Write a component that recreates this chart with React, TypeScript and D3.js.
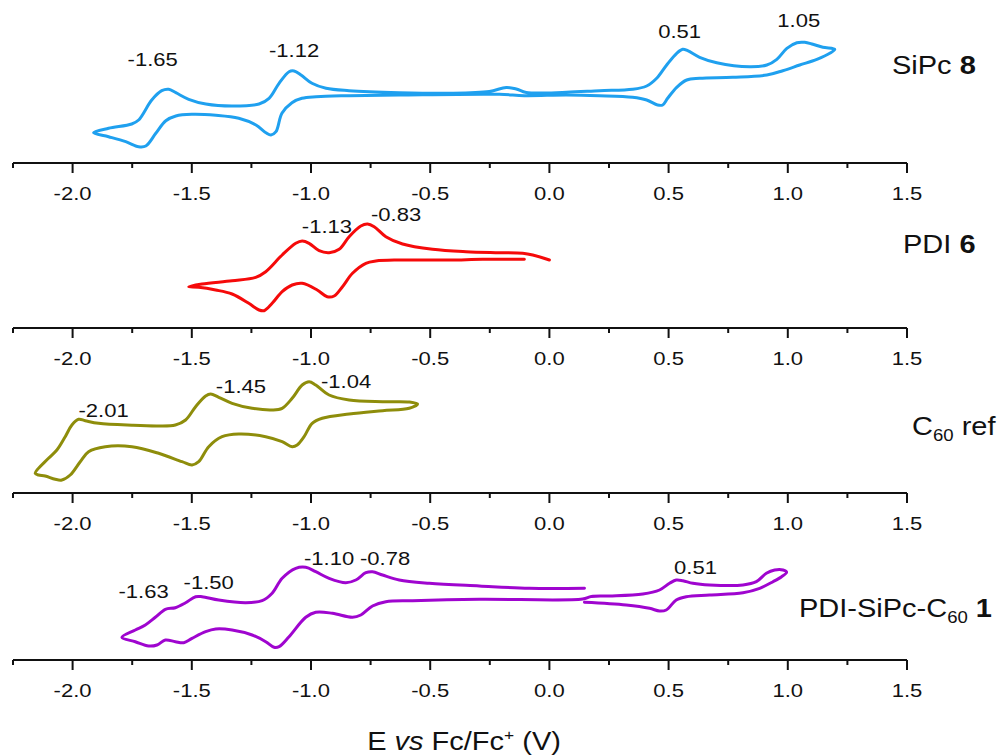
import React from "react";
import * as d3 from "d3";

// Potential axis (V vs Fc/Fc+)
const majorTicks = [-2.0, -1.5, -1.0, -0.5, 0.0, 0.5, 1.0, 1.5];
const minorTicks = [-2.25, -1.75, -1.25, -0.75, -0.25, 0.25, 0.75, 1.25];
const xDomain: [number, number] = [-2.25, 1.5];

// Cyclic voltammograms: [E (V), current (a.u.)]
const sipc8: [number, number][] = [
  [-1.912, 3.03], [-1.849, 3.47], [-1.752, 3.9], [-1.723, 4.3], [-1.668, 6.3], [-1.626, 7.23], [-1.597, 7.37],
  [-1.567, 7.03], [-1.513, 6.37], [-1.441, 5.9], [-1.332, 5.7], [-1.218, 5.9], [-1.176, 6.47], [-1.134, 7.97],
  [-1.092, 9.13], [-1.071, 9.2], [-1.042, 8.8], [-0.996, 7.97], [-0.937, 7.47], [-0.84, 7.23], [-0.63, 7.03],
  [-0.42, 6.97], [-0.252, 7.15], [-0.181, 7.55], [-0.139, 7.4], [-0.097, 7.05], [0.071, 7.07], [0.21, 7.23],
  [0.349, 7.37], [0.408, 7.7], [0.45, 8.47], [0.492, 9.8], [0.534, 10.97], [0.559, 11.37], [0.58, 11.23],
  [0.63, 10.57], [0.702, 10.03], [0.84, 9.63], [0.912, 9.8], [0.954, 10.37], [0.996, 11.47], [1.038, 12.03],
  [1.071, 12.07], [1.105, 11.87], [1.147, 11.57], [1.197, 11.37],
  [1.176, 10.97], [1.122, 10.37], [1.05, 9.8], [0.979, 9.23], [0.912, 8.8], [0.769, 8.57], [0.63, 8.47],
  [0.576, 8.3], [0.534, 7.57], [0.496, 6.47], [0.475, 5.8], [0.454, 5.8], [0.408, 6.3], [0.349, 6.57],
  [0.21, 6.73], [0.071, 6.8], [-0.105, 6.73], [-0.21, 6.87], [-0.63, 6.8], [-0.84, 6.73], [-0.979, 6.63],
  [-1.038, 6.47], [-1.08, 6.03], [-1.122, 4.97], [-1.147, 3.13], [-1.168, 2.8], [-1.189, 3.03], [-1.231, 3.8],
  [-1.303, 4.47], [-1.399, 4.77], [-1.5, 4.87], [-1.567, 4.7], [-1.609, 4.23], [-1.651, 2.97], [-1.693, 1.7],
  [-1.723, 1.63], [-1.777, 2.13], [-1.849, 2.63],
];

const pdi6: [number, number][] = [
  [-0.105, 6.87], [-0.28, 6.87], [-0.42, 6.8], [-0.63, 6.8], [-0.728, 6.7], [-0.77, 6.47], [-0.826, 5.47],
  [-0.868, 4.13], [-0.903, 3.2], [-0.932, 3.13], [-0.974, 3.8], [-1.037, 4.47], [-1.079, 4.3], [-1.121, 3.63],
  [-1.163, 2.47], [-1.197, 1.73], [-1.218, 1.8], [-1.261, 2.47], [-1.331, 3.4], [-1.4, 3.8], [-1.471, 4.07],
  [-1.513, 4.13],
  [-1.457, 4.4], [-1.331, 4.73], [-1.232, 5.07], [-1.19, 5.63], [-1.121, 7.3], [-1.064, 8.47], [-1.037, 8.7],
  [-1.008, 8.47], [-0.966, 7.73], [-0.924, 7.53], [-0.882, 7.87], [-0.84, 9.13], [-0.791, 10.2], [-0.763, 10.4],
  [-0.735, 10.13], [-0.686, 9.13], [-0.616, 8.4], [-0.49, 7.87], [-0.35, 7.63], [-0.21, 7.53], [-0.112, 7.47],
  [-0.07, 7.3], [0.0, 6.8],
];

const c60ref: [number, number][] = [
  [-2.157, 1.97], [-2.101, 3.47], [-2.066, 4.3], [-2.031, 5.63], [-2.003, 6.8], [-1.975, 7.37], [-1.947, 7.23],
  [-1.891, 6.97], [-1.751, 6.77], [-1.639, 6.7], [-1.569, 6.8], [-1.526, 7.3], [-1.484, 8.63], [-1.442, 9.7],
  [-1.421, 9.9], [-1.387, 9.57], [-1.331, 8.97], [-1.247, 8.47], [-1.163, 8.3], [-1.121, 8.47], [-1.079, 9.47],
  [-1.037, 10.8], [-1.008, 11.13], [-0.98, 10.8], [-0.924, 9.8], [-0.84, 9.3], [-0.7, 9.13], [-0.588, 9.1],
  [-0.553, 8.9],
  [-0.588, 8.47], [-0.7, 8.23], [-0.84, 7.9], [-0.953, 7.47], [-0.995, 6.97], [-1.029, 5.63], [-1.058, 4.8],
  [-1.079, 4.63], [-1.121, 5.13], [-1.19, 5.63], [-1.303, 5.9], [-1.373, 5.63], [-1.429, 4.63], [-1.471, 3.13],
  [-1.499, 2.8], [-1.541, 3.13], [-1.639, 3.97], [-1.751, 4.63], [-1.863, 4.63], [-1.933, 4.13], [-1.968, 3.13],
  [-2.01, 1.8], [-2.045, 1.3], [-2.073, 1.37], [-2.115, 1.7], [-2.143, 1.8],
];

const triad1: [number, number][] = [
  [0.147, 7.17], [-0.084, 7.17], [-0.294, 7.4], [-0.504, 7.67], [-0.63, 8.0], [-0.7, 8.5], [-0.742, 8.83],
  [-0.77, 8.73], [-0.812, 8.0], [-0.854, 7.73], [-0.924, 8.17], [-0.98, 8.83], [-1.022, 9.27], [-1.064, 9.17],
  [-1.121, 8.17], [-1.163, 6.67], [-1.205, 5.93], [-1.274, 5.73], [-1.387, 6.0], [-1.457, 6.33], [-1.484, 6.33],
  [-1.526, 5.73], [-1.569, 5.23], [-1.611, 5.07], [-1.653, 4.27], [-1.695, 3.5], [-1.737, 3.0], [-1.793, 2.27],
  [-1.737, 1.83], [-1.681, 1.4], [-1.646, 1.5], [-1.611, 2.0], [-1.569, 1.83], [-1.534, 1.73], [-1.499, 2.17],
  [-1.442, 2.83], [-1.4, 3.1], [-1.331, 3.0], [-1.247, 2.5], [-1.19, 1.83], [-1.155, 1.27], [-1.134, 1.33],
  [-1.092, 2.33], [-1.022, 4.27], [-0.98, 4.77], [-0.91, 4.67], [-0.826, 4.27], [-0.791, 4.5], [-0.742, 5.4],
  [-0.686, 5.83], [-0.574, 5.93], [-0.294, 6.07], [0.139, 6.1], [0.176, 6.35], [0.252, 6.4], [0.392, 6.6],
  [0.462, 7.0], [0.504, 7.67], [0.532, 8.0], [0.56, 7.93], [0.602, 7.67], [0.672, 7.5], [0.812, 7.5],
  [0.868, 7.83], [0.91, 8.67], [0.945, 9.0], [0.98, 9.0], [0.995, 8.77],
  [0.974, 8.33], [0.938, 7.83], [0.882, 7.17], [0.812, 6.73], [0.672, 6.5], [0.574, 6.33], [0.532, 6.0],
  [0.49, 5.0], [0.462, 4.9], [0.42, 5.17], [0.322, 5.5], [0.147, 5.77],
];

// Half-wave potential labels for each compound
const sipc8Peaks = ["-1.65", "-1.12", "0.51", "1.05"];
const pdi6Peaks = ["-1.13", "-0.83"];
const c60Peaks = ["-2.01", "-1.45", "-1.04"];
const triad1Peaks = ["-1.63", "-1.50", "-1.10", "-0.78", "0.51"];

// Where each peak label sits, in [E, current] of its own panel
const sipc8PeakAt: [number, number][] = [[-1.664, 9.7], [-1.071, 10.6], [0.546, 12.5], [1.046, 13.6]];
const pdi6PeakAt: [number, number][] = [[-0.933, 9.5], [-0.643, 10.7]];
const c60PeakAt: [number, number][] = [[-1.87, 7.6], [-1.294, 10.0], [-0.853, 10.5]];
const triad1PeakAt: [number, number][] = [[-1.702, 6.2], [-1.429, 7.1], [-0.924, 9.5], [-0.689, 9.5], [0.613, 8.6]];

const FONT = "'Liberation Sans', Arial, Helvetica, sans-serif";
const SX = 1.16;
const W = 1001;
const H = 756;

const x = d3.scaleLinear().domain(xDomain).range([13, 907]);

type Panel = {
  axisY: number;
  color: string;
  data: [number, number][];
  closed: boolean;
  peaks: string[];
  peakAt: [number, number][];
  name: React.ReactNode;
  nameX: number;
  nameY: number;
};

const panels: Panel[] = [
  {
    axisY: 163, color: "#1fa0ef", data: sipc8, closed: true, peaks: sipc8Peaks, peakAt: sipc8PeakAt,
    name: (<>SiPc <tspan fontWeight="bold">8</tspan></>), nameX: 892, nameY: 74,
  },
  {
    axisY: 328, color: "#f50a0a", data: pdi6, closed: false, peaks: pdi6Peaks, peakAt: pdi6PeakAt,
    name: (<>PDI <tspan fontWeight="bold">6</tspan></>), nameX: 903, nameY: 253,
  },
  {
    axisY: 493, color: "#8e8d0b", data: c60ref, closed: true, peaks: c60Peaks, peakAt: c60PeakAt,
    name: (<>C<tspan fontSize={16} dy={6}>60</tspan><tspan dy={-6}> ref</tspan></>), nameX: 912, nameY: 435,
  },
  {
    axisY: 660, color: "#9f05cf", data: triad1, closed: false, peaks: triad1Peaks, peakAt: triad1PeakAt,
    name: (<>PDI-SiPc-C<tspan fontSize={16} dy={6}>60</tspan><tspan dy={-6}> </tspan><tspan fontWeight="bold">1</tspan></>),
    nameX: 799, nameY: 617,
  },
];

function Label(props: { x: number; y: number; size: number; anchor?: string; children: React.ReactNode }) {
  const { x: tx, y: ty, size, anchor = "middle", children } = props;
  return (
    <text
      transform={`translate(${tx},${ty}) scale(${SX},1)`}
      fontSize={size}
      textAnchor={anchor}
      fontFamily={FONT}
      fill="#111"
    >
      {children}
    </text>
  );
}

function Axis({ y0 }: { y0: number }) {
  return (
    <g>
      <line x1={x(xDomain[0])} x2={x(xDomain[1])} y1={y0} y2={y0} stroke="#111" strokeWidth={2} />
      {minorTicks.map((t) => (
        <line key={"m" + t} x1={x(t)} x2={x(t)} y1={y0} y2={y0 + 5} stroke="#111" strokeWidth={2} />
      ))}
      {majorTicks.map((t) => (
        <g key={"M" + t}>
          <line x1={x(t)} x2={x(t)} y1={y0} y2={y0 + 10} stroke="#111" strokeWidth={2} />
          <Label x={x(t)} y={y0 + 37} size={19}>{t.toFixed(1)}</Label>
        </g>
      ))}
    </g>
  );
}

function CV({ p }: { p: Panel }) {
  const y = d3.scaleLinear().domain([0, 16]).range([p.axisY, p.axisY - 160]);
  const line = d3
    .line<[number, number]>()
    .x((d) => x(d[0]))
    .y((d) => y(d[1]))
    .curve(p.closed ? d3.curveCatmullRomClosed.alpha(0.5) : d3.curveCatmullRom.alpha(0.5));
  return (
    <g>
      <path d={line(p.data) ?? ""} fill="none" stroke={p.color} strokeWidth={3} strokeLinejoin="round" strokeLinecap="round" />
      {p.peaks.map((txt, i) => (
        <Label key={txt + i} x={x(p.peakAt[i][0])} y={y(p.peakAt[i][1])} size={19}>
          {txt}
        </Label>
      ))}
      <Label x={p.nameX} y={p.nameY} size={25} anchor="start">{p.name}</Label>
      <Axis y0={p.axisY} />
    </g>
  );
}

export default function App() {
  return (
    <svg
      width={W}
      height={H}
      viewBox={`0 0 ${W} ${H}`}
      style={{ position: "absolute", left: 0, top: 0, background: "#fff" }}
    >
      <rect width={W} height={H} fill="#fff" />
      {panels.map((p, i) => (
        <CV key={i} p={p} />
      ))}
      <Label x={464} y={750} size={25}>
        E <tspan fontStyle="italic">vs</tspan> Fc/Fc<tspan fontSize={15} dy={-10}>+</tspan>
        <tspan dy={10}> (V)</tspan>
      </Label>
    </svg>
  );
}
